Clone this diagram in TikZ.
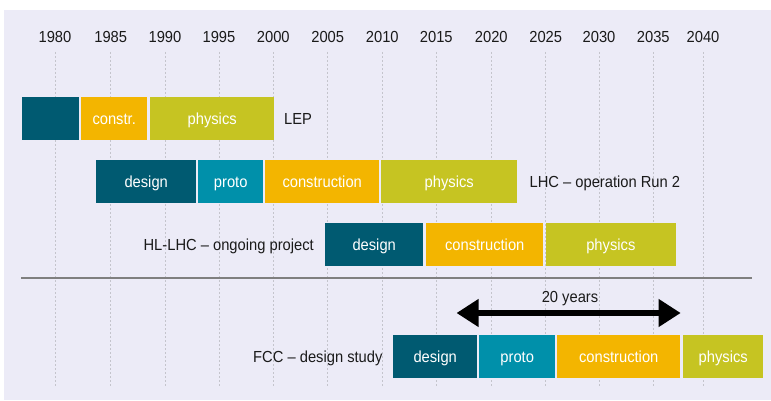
\documentclass[tikz,border=0pt]{standalone}
\usepackage{fontspec}
\setmainfont{Liberation Sans}[FakeStretch=0.92]
\usetikzlibrary{positioning,arrows.meta}

\definecolor{bgpanel}{HTML}{ECEBF7}
\definecolor{cdesign}{HTML}{005A71}
\definecolor{cproto}{HTML}{0090AA}
\definecolor{cconstr}{HTML}{F3B500}
\definecolor{cphysics}{HTML}{C6C422}
\definecolor{cgrid}{HTML}{C4C4CC}
\definecolor{csep}{HTML}{7F7F7F}
\definecolor{ctext}{HTML}{1A1A1A}

\tikzset{
  txt/.style={inner sep=0pt, text height=11.5pt, text depth=0pt,
    font=\fontsize{16}{18}\selectfont, text=ctext},
  phase/.style={txt, fill=#1, text=white, minimum height=42.5pt, anchor=west},
  gridline/.style={cgrid, line width=0.9pt, dash pattern=on 2pt off 2pt},
  sepline/.style={csep, line width=1.8pt},
  spanarrow/.style={line width=6pt,
    {Triangle[length=22pt,width=26.5pt]}-{Triangle[length=22pt,width=26.5pt]}}
}

\begin{document}
\begin{tikzpicture}[x=1pt,y=-1pt]
  % 1. Canvas and panel
  \useasboundingbox (0,0) rectangle (771,401);
  \fill[bgpanel] (4,10) rectangle (771,400);

  % 2. Years and dotted grid
  \foreach \yr/\gx in {1980/55,1985/110.7,1990/165,1995/219,2000/273.3,
      2005/327.7,2010/382.3,2015/436.3,2020/491.3,2025/545.7,2030/599,
      2035/653.3,2040/703}{
    \node[txt] (y\yr) at (\gx,37) {\yr};
    \draw[gridline] (\gx,52) -- (\gx,387);
  }

  % 3. LEP
  \foreach \nm/\xa/\xb/\col/\lbl in {lepA/22/79/cdesign/{},
      lepB/81/147/cconstr/constr., lepC/150/274/cphysics/physics}
    \node[phase=\col, minimum width={\xb-\xa}] (\nm) at (\xa,118.5) {\lbl};
  \node[txt, right=9.5pt of lepC] (lep) {LEP};

  % 4. LHC
  \foreach \nm/\xa/\xb/\col/\lbl in {lhcA/96/196/cdesign/design,
      lhcB/198/263/cproto/proto, lhcC/265/379/cconstr/construction,
      lhcD/381/517/cphysics/physics}
    \node[phase=\col, minimum width={\xb-\xa}] (\nm) at (\xa,181.5) {\lbl};
  \node[txt, right=12pt of lhcD] (lhc) {LHC – operation Run 2};

  % 5. HL-LHC
  \foreach \nm/\xa/\xb/\col/\lbl in {hlA/325/423/cdesign/design,
      hlB/426/543/cconstr/construction, hlC/545.3/676/cphysics/physics}
    \node[phase=\col, minimum width={\xb-\xa}] (\nm) at (\xa,244.5) {\lbl};
  \node[txt, left=11pt of hlA] (hllhc) {HL-LHC – ongoing project};

  % 6. Separator
  \draw[sepline] (21,278) -- (752,278);

  % 7. FCC and its 20 year span
  \foreach \nm/\xa/\xb/\col/\lbl in {fccA/393/477/cdesign/design,
      fccB/479/555/cproto/proto, fccC/557/680/cconstr/construction,
      fccD/683/763/cphysics/physics}
    \node[phase=\col, minimum width={\xb-\xa}] (\nm) at (\xa,356.5) {\lbl};
  \node[txt, left=10.3pt of fccA] (fcc) {FCC – design study};

  \coordinate (spanL) at (456.5,313);
  \coordinate (spanR) at (680.7,313);
  \draw[spanarrow] (spanL) -- (spanR);
  \node[txt] (span) at (570,297) {20 years};
\end{tikzpicture}
\end{document}
